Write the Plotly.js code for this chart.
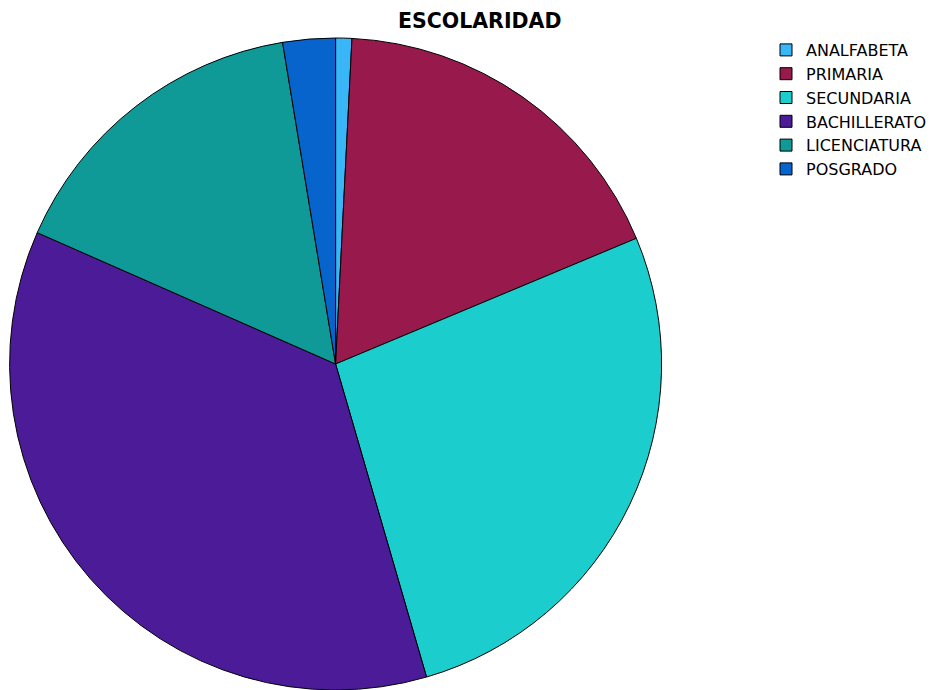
<!DOCTYPE html>
<html>
<head>
<meta charset="utf-8">
<script src="https://cdn.plot.ly/plotly-3.0.1.min.js"></script>
<style>html,body{margin:0;padding:0;background:#fff;overflow:hidden}#chart{width:948px;height:690px}</style>
</head>
<body>
<div id="chart"></div>
<script>
const categories = ["ANALFABETA", "PRIMARIA", "SECUNDARIA", "BACHILLERATO", "LICENCIATURA", "POSGRADO"];
const percentages = [0.8, 17.9, 26.8, 36.1, 15.8, 2.6];
const colors = ["#38b6f8", "#98194c", "#1ccdcd", "#4c1b98", "#0f9a98", "#0764cc"];
const titleText = "ESCOLARIDAD";

const trace = {
  type: "pie",
  labels: categories,
  values: percentages,
  sort: false,
  direction: "clockwise",
  rotation: 0,
  textinfo: "none",
  hoverinfo: "label+percent",
  marker: {colors: colors, line: {color: "#000000", width: 1}},
  domain: {x: [0.009, 0.699], y: [0, 1]}
};

const layout = {
  width: 948,
  height: 690,
  margin: {l: 0, r: 0, t: 38, b: 0, autoexpand: false},
  paper_bgcolor: "#ffffff",
  title: {
    text: "<b>" + titleText + "</b>",
    font: {family: "DejaVu Sans", size: 20.5, color: "#000000"},
    x: 0.506, xref: "container", xanchor: "center",
    y: 1 - 21/690, yref: "container", yanchor: "middle"
  },
  showlegend: true,
  legend: {
    xref: "container", yref: "container",
    x: 766/948, xanchor: "left",
    y: 1 - 33/690, yanchor: "top",
    font: {family: "DejaVu Sans", size: 16, color: "#000000"},
    itemwidth: 30,
    bgcolor: "rgba(0,0,0,0)"
  }
};

Plotly.newPlot("chart", [trace], layout, {displayModeBar: false});
</script>
</body>
</html>
